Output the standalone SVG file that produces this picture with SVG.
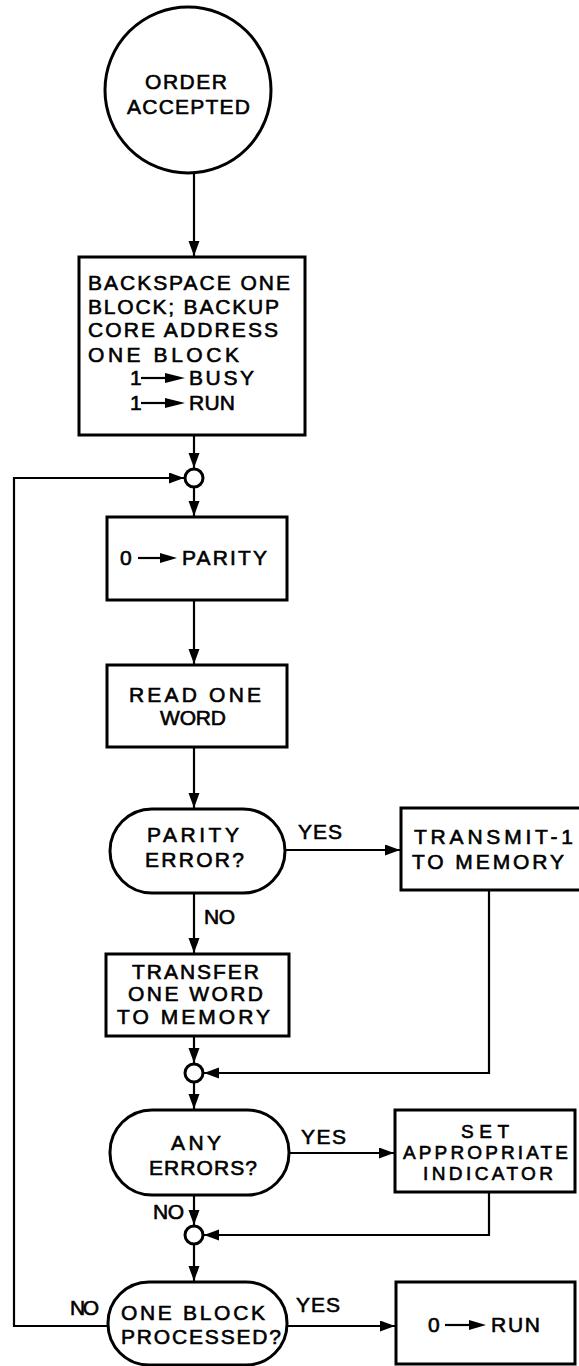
<svg xmlns="http://www.w3.org/2000/svg" width="579" height="1366" viewBox="0 0 579 1366">
<style>
.shape{fill:#fff;stroke:#000;stroke-width:3}
.conn{fill:none;stroke:#000;stroke-width:2.2}
.t{font-family:"Liberation Sans",Arial,sans-serif;font-size:21px;fill:#000;stroke:#000;stroke-width:0.6}
.s{font-size:19px}
.ia{stroke:#000;stroke-width:2.2;fill:none}
.ih{fill:#000}
</style>
<defs>
<marker id="ah" markerUnits="userSpaceOnUse" markerWidth="16" markerHeight="12" refX="15" refY="5.5" orient="auto">
<path d="M0,0 L15,5.5 L0,11 z" fill="#000"/>
</marker>
</defs>
<rect width="579" height="1366" fill="#fff"/>

<g id="connectors">
<path class="conn" d="M194,173 V256" marker-end="url(#ah)"/>
<path class="conn" d="M194,435 V468" marker-end="url(#ah)"/>
<path class="conn" d="M194,487 V516" marker-end="url(#ah)"/>
<path class="conn" d="M194,600 V664" marker-end="url(#ah)"/>
<path class="conn" d="M194,747 V808" marker-end="url(#ah)"/>
<path class="conn" d="M285,850 H400" marker-end="url(#ah)"/>
<path class="conn" d="M194,893 V953" marker-end="url(#ah)"/>
<path class="conn" d="M194,1036 V1063" marker-end="url(#ah)"/>
<path class="conn" d="M489,890 V1073 H204" marker-end="url(#ah)"/>
<path class="conn" d="M194,1082 V1109" marker-end="url(#ah)"/>
<path class="conn" d="M289,1153 H394" marker-end="url(#ah)"/>
<path class="conn" d="M194,1195 V1225" marker-end="url(#ah)"/>
<path class="conn" d="M489,1192 V1235 H204" marker-end="url(#ah)"/>
<path class="conn" d="M194,1244 V1281" marker-end="url(#ah)"/>
<path class="conn" d="M287,1326 H395" marker-end="url(#ah)"/>
<path class="conn" d="M108,1326 H14 V478 H184" marker-end="url(#ah)"/>
</g>

<g id="edge-labels">
<text class="t" x="298" y="839" textLength="44">YES</text>
<text class="t" x="204" y="924" textLength="31">NO</text>
<text class="t" x="301" y="1144" textLength="45">YES</text>
<text class="t" x="153" y="1219" textLength="31">NO</text>
<text class="t" x="70" y="1315" textLength="29">NO</text>
<text class="t" x="296" y="1312" textLength="44">YES</text>
</g>

<g id="start">
<circle class="shape" cx="188" cy="90" r="83"/>
<text class="t" x="145" y="89" textLength="82">ORDER</text>
<text class="t" x="127" y="114" textLength="123">ACCEPTED</text>
</g>

<g id="backspace">
<rect class="shape" x="79" y="257" width="226" height="178"/>
<text class="t" x="88" y="290" textLength="202">BACKSPACE ONE</text>
<text class="t" x="88" y="314" textLength="191">BLOCK; BACKUP</text>
<text class="t" x="88" y="337" textLength="190">CORE ADDRESS</text>
<text class="t" x="88" y="362" textLength="151">ONE BLOCK</text>
<text class="t" x="130" y="385">1</text>
<path class="ia" d="M141,378 H170"/>
<polygon class="ih" points="165,373 185,378 165,383"/>
<text class="t" x="189" y="385" textLength="65">BUSY</text>
<text class="t" x="130" y="410">1</text>
<path class="ia" d="M141,403 H170"/>
<polygon class="ih" points="165,398 185,403 165,408"/>
<text class="t" x="189" y="410" textLength="46">RUN</text>
</g>

<g id="junction1">
<circle class="shape" cx="194" cy="478" r="9"/>
</g>

<g id="clear-parity">
<rect class="shape" x="107" y="517" width="180" height="83"/>
<text class="t" x="120" y="565">0</text>
<path class="ia" d="M138,558 H163"/>
<polygon class="ih" points="160,553 177,558 160,563"/>
<text class="t" x="182" y="565" textLength="85">PARITY</text>
</g>

<g id="read-word">
<rect class="shape" x="107" y="665" width="180" height="82"/>
<text class="t" x="129" y="702" textLength="132">READ ONE</text>
<text class="t" x="160" y="725" textLength="66">WORD</text>
</g>

<g id="parity-error">
<rect class="shape" x="110" y="809" width="175" height="84" rx="42" ry="42"/>
<text class="t" x="147" y="842" textLength="92">PARITY</text>
<text class="t" x="145" y="867" textLength="99">ERROR?</text>
</g>

<g id="transmit">
<rect class="shape" x="401" y="808" width="200" height="82"/>
<text class="t" x="414" y="844" textLength="159">TRANSMIT-1</text>
<text class="t" x="412" y="869" textLength="152">TO MEMORY</text>
</g>

<g id="transfer">
<rect class="shape" x="106" y="954" width="183" height="82"/>
<text class="t" x="132" y="979" textLength="127">TRANSFER</text>
<text class="t" x="128" y="1001" textLength="135">ONE WORD</text>
<text class="t" x="117" y="1024" textLength="153">TO MEMORY</text>
</g>

<g id="junction2">
<circle class="shape" cx="194" cy="1073" r="9"/>
</g>

<g id="any-errors">
<rect class="shape" x="110" y="1110" width="179" height="85" rx="42" ry="42"/>
<text class="t" x="171" y="1150" textLength="50">ANY</text>
<text class="t" x="149" y="1175" textLength="108">ERRORS?</text>
</g>

<g id="set-indicator">
<rect class="shape" x="395" y="1110" width="180" height="82"/>
<text class="t s" x="461" y="1138" textLength="48">SET</text>
<text class="t s" x="403" y="1159" textLength="165">APPROPRIATE</text>
<text class="t s" x="423" y="1180" textLength="130">INDICATOR</text>
</g>

<g id="junction3">
<circle class="shape" cx="194" cy="1235" r="9"/>
</g>

<g id="block-processed">
<rect class="shape" x="108" y="1282" width="179" height="83" rx="41" ry="41"/>
<text class="t" x="121" y="1320" textLength="144">ONE BLOCK</text>
<text class="t" x="121" y="1344" textLength="160">PROCESSED?</text>
</g>

<g id="clear-run">
<rect class="shape" x="396" y="1282" width="179" height="82"/>
<text class="t" x="428" y="1332">0</text>
<path class="ia" d="M445,1325 H472"/>
<polygon class="ih" points="469,1320 486,1325 469,1330"/>
<text class="t" x="491" y="1332" textLength="49">RUN</text>
</g>
</svg>
